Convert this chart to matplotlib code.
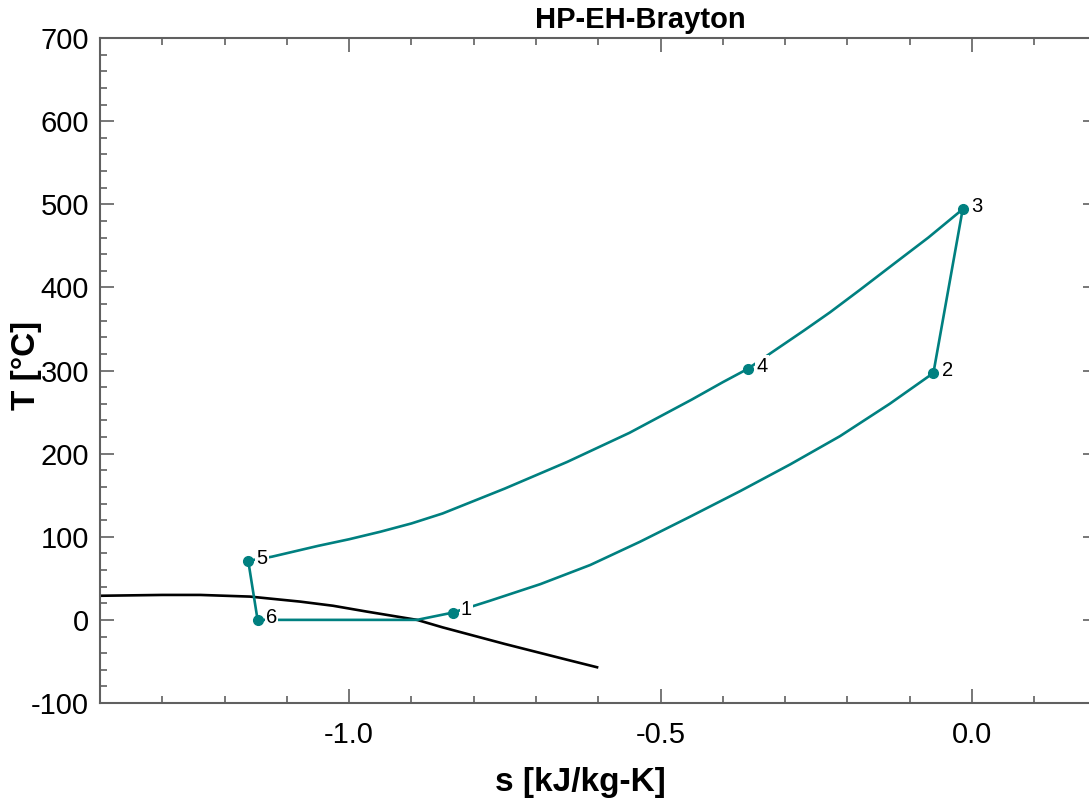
import matplotlib

matplotlib.use("Agg")
import matplotlib.pyplot as plt
from matplotlib.ticker import FormatStrFormatter, MultipleLocator

# состояния цикла 1..6
STATE_LABELS = ["1", "2", "3", "4", "5", "6"]
STATE_S = [-0.834, -0.062, -0.015, -0.360, -1.162, -1.147]
STATE_T = [8.7, 297.0, 494.0, 302.0, 71.0, 0.0]

# промежуточные точки процессов
SEG_61_S = [-0.891]
SEG_61_T = [0.0]
SEG_12_S = [-0.774, -0.693, -0.613, -0.533, -0.453, -0.372, -0.292, -0.212, -0.132]
SEG_12_T = [23.0, 43.0, 66.0, 94.0, 124.0, 155.0, 187.0, 221.0, 260.0]
SEG_34_S = [-0.07, -0.126, -0.18, -0.228, -0.27, -0.321]
SEG_34_T = [460.0, 428.0, 397.0, 370.0, 348.0, 322.0]
SEG_45_S = [-0.40, -0.45, -0.55, -0.65, -0.75, -0.85, -0.90, -0.95, -1.00, -1.05, -1.124]
SEG_45_T = [286.0, 265.0, 225.0, 190.0, 158.0, 128.0, 116.0, 106.0, 97.0, 89.0, 76.0]

# линия насыщения
SAT_S = [-1.4, -1.3, -1.239, -1.159, -1.079, -1.026, -0.972, -0.891,
         -0.85, -0.75, -0.65, -0.602]
SAT_T = [29.0, 30.0, 30.0, 28.0, 22.0, 17.0, 10.0, 0.0, -9.0, -29.0, -48.0, -57.0]

TEAL = "#008080"
GRAY = "#606060"

plt.rcParams["font.family"] = ["Liberation Sans", "DejaVu Sans"]
plt.rcParams["axes.unicode_minus"] = False

fig = plt.figure(figsize=(10.89, 7.99), dpi=100)
ax = fig.add_axes([100 / 1089, 1 - 703 / 799, 996.6 / 1089, 665 / 799])

# замкнутый контур 6 -> 1 -> 2 -> 3 -> 4 -> 5 -> 6
s = ([STATE_S[5]] + SEG_61_S + [STATE_S[0]] + SEG_12_S + [STATE_S[1], STATE_S[2]]
     + SEG_34_S + [STATE_S[3]] + SEG_45_S + [STATE_S[4], STATE_S[5]])
t = ([STATE_T[5]] + SEG_61_T + [STATE_T[0]] + SEG_12_T + [STATE_T[1], STATE_T[2]]
     + SEG_34_T + [STATE_T[3]] + SEG_45_T + [STATE_T[4], STATE_T[5]])

ax.plot(SAT_S, SAT_T, color="black", lw=1.9, zorder=2, solid_joinstyle="round")
ax.plot(s, t, color=TEAL, lw=1.9, zorder=3, solid_joinstyle="round")
ax.plot(STATE_S, STATE_T, "o", color=TEAL, ms=7, zorder=5)
for lab, x, y in zip(STATE_LABELS, STATE_S, STATE_T):
    ax.annotate(lab, (x, y), xytext=(6, 2), textcoords="offset points",
                fontsize=14.5, va="center", ha="left", zorder=4,
                bbox=dict(facecolor="white", edgecolor="none", pad=0.8))

ax.set_xlim(-1.4, 0.2)
ax.set_ylim(-100, 700)
ax.xaxis.set_major_locator(MultipleLocator(0.5))
ax.xaxis.set_minor_locator(MultipleLocator(0.1))
ax.yaxis.set_major_locator(MultipleLocator(100))
ax.yaxis.set_minor_locator(MultipleLocator(20))
ax.xaxis.set_major_formatter(FormatStrFormatter("%.1f"))
ax.tick_params(which="both", direction="in", top=True, right=True, color=GRAY,
               width=1.2, labelsize=21)
ax.tick_params(which="major", length=10)
ax.tick_params(which="minor", length=5)
ax.tick_params(axis="x", pad=13)
ax.tick_params(axis="y", pad=8)
for sp in ax.spines.values():
    sp.set_color(GRAY)
    sp.set_linewidth(1.5)

fig.text(580 / 1089, 1 - 783 / 799, "s [kJ/kg-K]", fontsize=24, fontweight="bold",
         ha="center", va="center")
fig.text(27 / 1089, 1 - 365 / 799, "T [°C]", fontsize=24, fontweight="bold",
         ha="center", va="center", rotation=90)
fig.text(640 / 1089, 1 - 20 / 799, "HP-EH-Brayton", fontsize=21, fontweight="bold",
         ha="center", va="center")

fig.savefig("out.png", dpi=100)
